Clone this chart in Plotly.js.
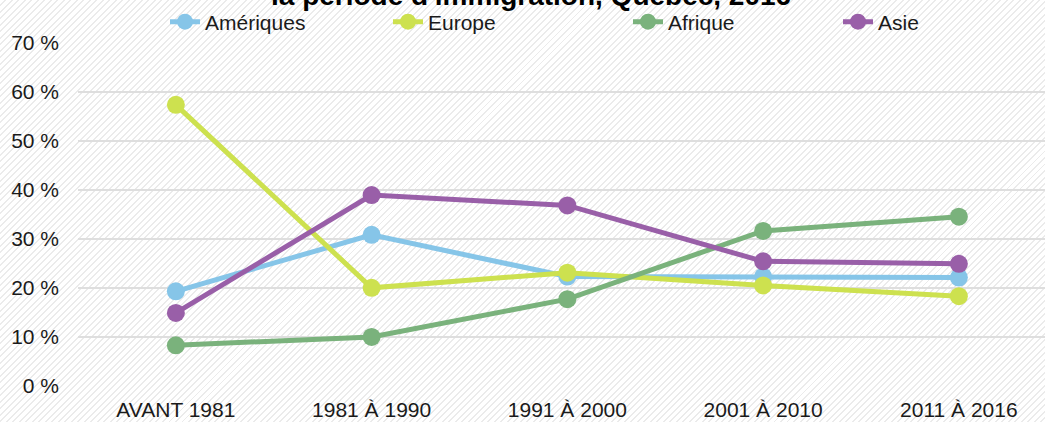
<!DOCTYPE html>
<html>
<head>
<meta charset="utf-8">
<script src="https://cdn.plot.ly/plotly-3.0.1.min.js"></script>
<style>
html, body { margin:0; padding:0; }
body {
  width:1045px; height:422px; overflow:hidden;
  background: repeating-linear-gradient(135deg, #ffffff 0px, #ffffff 3.2px, #ebebeb 3.2px, #ebebeb 4.6px);
}
#chart { width:1045px; height:422px; }
</style>
</head>
<body>
<div id="chart"></div>
<script>
const categories = ["AVANT 1981", "1981 À 1990", "1991 À 2000", "2001 À 2010", "2011 À 2016"];
const ameriques = [19.3, 30.8, 22.3, 22.3, 22.1];
const europe    = [57.3, 20.0, 23.1, 20.5, 18.3];
const afrique   = [8.3, 10.0, 17.7, 31.6, 34.5];
const asie      = [14.9, 38.9, 36.8, 25.4, 24.9];
const seriesNames = ["Amériques", "Europe", "Afrique", "Asie"];
const titleText = "la période d'immigration, Québec, 2016";
const yTicks = [0, 10, 20, 30, 40, 50, 60, 70];

const colors = ["#86C5E8", "#CDE14F", "#7AB27C", "#995FA8"];
const seriesData = [ameriques, europe, afrique, asie];
const legendIds = ["legend", "legend2", "legend3", "legend4"];
const legendTextX = [205, 428, 668, 878];

const traces = seriesData.map((vals, i) => ({
  type: "scatter",
  mode: "lines+markers",
  name: seriesNames[i],
  x: categories,
  y: vals,
  line: { color: colors[i], width: 5 },
  marker: { color: colors[i], size: 18 },
  legend: legendIds[i],
  cliponaxis: false
}));

const W = 1045, H = 422;
const layout = {
  width: W, height: H,
  paper_bgcolor: "rgba(0,0,0,0)",
  plot_bgcolor: "rgba(0,0,0,0)",
  margin: { l: 78, r: 0, t: 41, b: 36 },
  font: { family: "Liberation Sans, Arial, sans-serif", size: 21, color: "#1a1a1a" },
  xaxis: {
    type: "category",
    range: [-0.5, 4.44],
    showgrid: false,
    zeroline: false,
    showline: false,
    ticks: "",
    ticklabelstandoff: 9,
    tickfont: { size: 21, color: "#1a1a1a" }
  },
  yaxis: {
    range: [0, 70],
    tickvals: yTicks,
    ticktext: yTicks.map(v => v + " %"),
    showgrid: true,
    gridcolor: "#dedede",
    gridwidth: 2,
    zeroline: false,
    showline: false,
    ticks: "",
    ticklabelstandoff: 18,
    tickfont: { size: 21, color: "#1a1a1a" }
  },
  showlegend: true,
  annotations: [{
    text: "<b>" + titleText + "</b>",
    xref: "paper", yref: "paper",
    x: (531 - 78) / 967, y: 1 + 47 / 345,
    xanchor: "center", yanchor: "middle",
    showarrow: false,
    font: { size: 28, color: "#000000", family: "Liberation Sans, Arial, sans-serif" }
  }]
};

legendIds.forEach((id, i) => {
  layout[id] = {
    orientation: "h",
    xref: "container", yref: "container",
    x: (legendTextX[i] - 40) / W,
    y: 1 - 22 / H,
    xanchor: "left", yanchor: "middle",
    bgcolor: "rgba(0,0,0,0)",
    borderwidth: 0,
    font: { size: 21, color: "#1a1a1a" }
  };
});

Plotly.newPlot("chart", traces, layout, { displayModeBar: false, staticPlot: true });
</script>
</body>
</html>
